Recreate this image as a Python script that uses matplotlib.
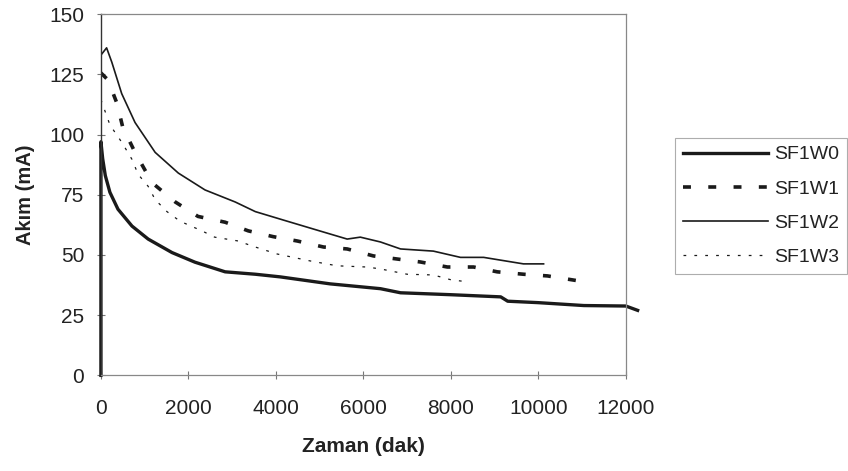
import matplotlib.pyplot as plt

# time (min) and current (mA) for each sample
sf1w0_t = [0, 0, 40, 100, 130, 206, 390, 710, 1080, 1625, 2150, 2840, 3530, 4100,
           5240, 5700, 6390, 6850, 8000, 9140, 9300, 10000, 11040, 12000, 12270]
sf1w0_i = [0, 97, 90, 83, 81, 76, 69, 62, 56.6, 51, 47, 43, 42, 40.9,
           38, 37.2, 36, 34.3, 33.5, 32.6, 30.8, 30.2, 29, 28.8, 27]

sf1w1_t = [0, 160, 366, 500, 780, 1170, 1700, 2220, 2840, 3370, 3940, 4490, 5090,
           5630, 6230, 6780, 7300, 7920, 8520, 9060, 9660, 10210, 10900]
sf1w1_i = [125.6, 122.7, 113, 103, 92.6, 80, 72, 66, 63.6, 60, 57.6, 55.8, 53.3,
           52.5, 49.6, 48.3, 47.1, 45, 45, 43, 42, 41.3, 39.3]

sf1w2_t = [0, 130, 250, 475, 780, 1240, 1770, 2380, 3070, 3530, 4170, 5000, 5630,
           5930, 6390, 6850, 7600, 8220, 8750, 9660, 10120]
sf1w2_i = [133, 136, 130, 117, 105, 92.6, 84, 77, 72, 68, 64.5, 60, 56.6,
           57.4, 55.4, 52.5, 51.6, 49, 49, 46.3, 46.3]

sf1w3_t = [0, 206, 480, 710, 850, 1080, 1240, 1510, 1810, 2310, 2600, 3140, 3460,
           4030, 4790, 5400, 6080, 6390, 7000, 7600, 8000, 8400]
sf1w3_i = [114.5, 104, 96.7, 89.7, 83.5, 78.5, 73, 68, 64, 60, 57.4, 55.8, 53.7,
           50.4, 47.5, 45.5, 45, 44.2, 42, 41.7, 39.7, 38.8]

x_ticks = [0, 2000, 4000, 6000, 8000, 10000, 12000]
y_ticks = [0, 25, 50, 75, 100, 125, 150]

plt.rcParams['font.family'] = ['Liberation Sans', 'DejaVu Sans']

fig = plt.figure(figsize=(8.48, 4.71), dpi=100)
ax = fig.add_axes([0.119, 0.203, 0.619, 0.767])

ink = '#1a1a1a'
ax.plot(sf1w0_t, sf1w0_i, color=ink, lw=2.4, label='SF1W0', clip_on=False)
ax.plot(sf1w1_t, sf1w1_i, color=ink, lw=2.6, linestyle=(0, (2.2, 4.8)), label='SF1W1')
ax.plot(sf1w2_t, sf1w2_i, color=ink, lw=1.2, label='SF1W2')
ax.plot(sf1w3_t, sf1w3_i, color=ink, lw=0.9, linestyle=(0, (2.2, 6.5)), label='SF1W3')

ax.set_xlim(0, 12000)
ax.set_ylim(0, 150)
ax.set_xticks(x_ticks)
ax.set_yticks(y_ticks)
ax.tick_params(direction='inout', length=6, width=0.8, color='#777777',
               labelcolor='#222222')
ax.tick_params(axis='x', labelsize=15, pad=14)
ax.tick_params(axis='y', labelsize=15, pad=9)

for side in ['top', 'right', 'bottom']:
    ax.spines[side].set_color('#888888')
    ax.spines[side].set_linewidth(0.9)
ax.spines['left'].set_color('#333333')
ax.spines['left'].set_linewidth(1.0)

ax.set_xlabel('Zaman (dak)', fontsize=15, fontweight='bold', color='#222222', labelpad=14)
ax.set_ylabel('Akım (mA)', fontsize=14.5, fontweight='bold', color='#222222', labelpad=10)

leg = ax.legend(loc='upper left', bbox_to_anchor=(0.796, 0.707),
                bbox_transform=fig.transFigure, fontsize=14, frameon=True,
                fancybox=False, edgecolor='#999999', handlelength=4.4,
                handletextpad=0.3, labelspacing=0.85, borderpad=0.4,
                borderaxespad=0)
leg.get_frame().set_linewidth(0.8)
for txt in leg.get_texts():
    txt.set_color('#222222')

fig.savefig('out.png', dpi=100)
